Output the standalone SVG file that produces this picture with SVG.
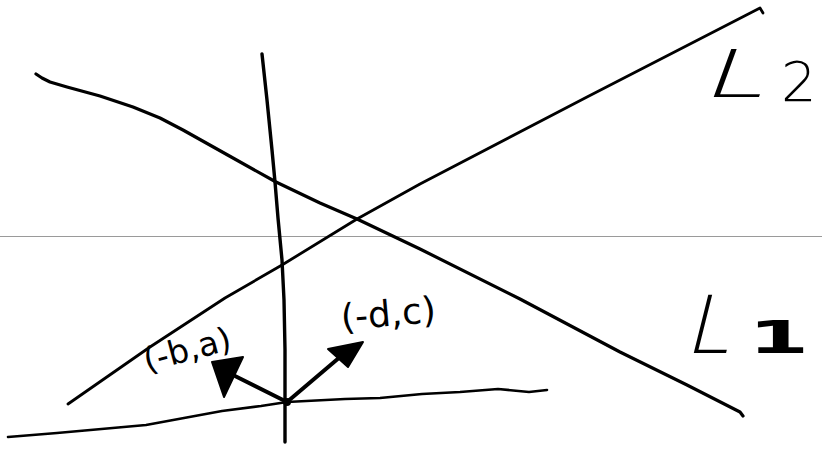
<svg xmlns="http://www.w3.org/2000/svg" width="822" height="449" viewBox="0 0 822 449">
<style>
.ink{fill:none;stroke:#000;stroke-linecap:round;stroke-linejoin:round}
.hand{font-family:"DejaVu Sans","Liberation Sans",sans-serif;fill:#000}
.head{fill:#000;stroke:#000;stroke-width:2;stroke-linejoin:round}
</style>
<rect width="822" height="449" fill="#fff"/>
<line x1="0" y1="236.5" x2="822" y2="236.5" stroke="#9a9a9a" stroke-width="1.2"/>
<g id="connectors">
<polyline id="line-L1" class="ink" stroke-width="3.2" points="36,74 42,78 50,82 67,87 100,96 133,107 160,118 183,130 233,158 276,182 320,203 357,219 420,249 520,299 620,352 687,385 740,412 743,416"/>
<polyline id="line-L2" class="ink" stroke-width="2.8" points="68,404 150,347 225,298 282,265 357,219 420,184 587,97 760,8 763,13"/>
<polyline id="axis-vertical" class="ink" stroke-width="3.4" points="262,54 267,100 272,150 275,182 278,218 282,260 284,300 285,350 285,400 285,442"/>
<polyline id="axis-bottom" class="ink" stroke-width="2.6" points="8,437 57,433 146,425 184,418 222,411 261,406 287,402 345,399 380,398 422,394 460,392 498,389 529,392 547,390"/>
</g>
<g id="vector-ba">
<line class="ink" stroke-width="4" x1="287" y1="402" x2="233" y2="375"/>
<polygon class="head" points="212,362 243,357 224,397"/>
</g>
<g id="vector-dc">
<line class="ink" stroke-width="4" x1="287" y1="402" x2="340" y2="357"/>
<polygon class="head" points="363,342 328,349 348,367"/>
</g>
<circle id="origin" cx="287" cy="402" r="4" fill="#000"/>
<g id="label-ba">
<text class="hand" font-size="33" transform="translate(147,372) rotate(-15)">(-b,a)</text>
</g>
<g id="label-dc">
<text class="hand" font-size="36" transform="translate(342,330) rotate(-5)">(-d,c)</text>
</g>
<g id="label-L2">
<text class="hand" font-weight="200" font-size="66" transform="translate(700,97) skewX(-20) scale(1.7,1)">L</text>
<text class="hand" font-weight="200" font-size="56" x="781" y="101">2</text>
</g>
<g id="label-L1">
<text class="hand" font-weight="200" font-size="80" transform="translate(684,353) skewX(-14)">L</text>
<text class="hand" font-weight="bold" font-size="44" transform="translate(748,353) scale(2,1)">1</text>
</g>
</svg>
